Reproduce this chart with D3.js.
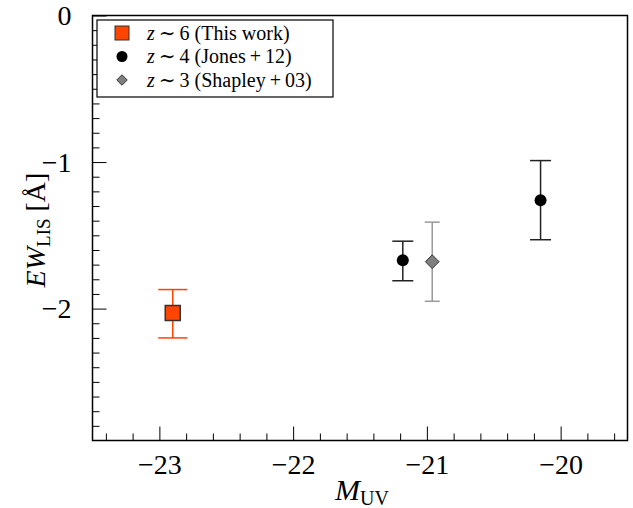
<!DOCTYPE html>
<html>
<head>
<meta charset="utf-8">
<script src="https://cdn.jsdelivr.net/npm/d3@7"></script>
<style>
  body { margin: 0; background: #fff; }
  svg { font-family: "Liberation Serif", "DejaVu Serif", serif; }
</style>
</head>
<body>
<div id="chart"></div>
<script>
// data: M_UV, EW, upper / lower error
const thisWork = [{ x: -22.9, y: -2.03, up: 0.16, lo: 0.17 }];
const jones12 = [
  { x: -21.18, y: -1.67, up: 0.13, lo: 0.14 },
  { x: -20.15, y: -1.26, up: 0.27, lo: 0.27 }
];
const shapley03 = [{ x: -20.96, y: -1.68, up: 0.27, lo: 0.27 }];
const xTicks = [-23, -22, -21, -20];
const yTicks = [0, -1, -2];

const width = 633, height = 508,
      margin = ({ top: 15.5, right: 5.5, bottom: 67.5, left: 92.5 });

const svg = d3.select("#chart")
  .append("svg")
  .attr("width", width)
  .attr("height", height);

const x = d3.scaleLinear()
  .domain([-23.5, -19.5])
  .range([margin.left, width - margin.right]);

const y = d3.scaleLinear()
  .domain([-2.9, 0])
  .range([height - margin.bottom, margin.top]);

// minor ticks (inward)
const xMinor = d3.range(-23.4, -19.5, 0.2).filter(v => Math.abs(v - Math.round(v)) > 0.01);
const yMinor = d3.range(-2.8, 0, 0.1).filter(v => Math.abs(v - Math.round(v)) > 0.01);

const gx = svg.append("g")
  .attr("transform", `translate(0,${height - margin.bottom})`);
gx.call(d3.axisBottom(x).tickValues(xMinor).tickSize(-7).tickFormat(""));
gx.append("g").call(d3.axisBottom(x).tickValues(xTicks).tickSize(-14).tickPadding(14)
    .tickFormat(d => "\u2212" + Math.abs(d)));
gx.selectAll(".domain").remove();
gx.selectAll("text").attr("font-size", 28).attr("fill", "#000")
  .attr("font-family", "Liberation Serif, serif");

const gy = svg.append("g")
  .attr("transform", `translate(${margin.left},0)`);
gy.call(d3.axisLeft(y).tickValues(yMinor).tickSize(-7).tickFormat(""));
gy.append("g").call(d3.axisLeft(y).tickValues(yTicks).tickSize(-14).tickPadding(21)
    .tickFormat(d => d === 0 ? "0" : "\u2212" + Math.abs(d)));
gy.selectAll(".domain").remove();
gy.selectAll("text").attr("font-size", 28).attr("fill", "#000")
  .attr("font-family", "Liberation Serif, serif");
svg.selectAll(".tick line").attr("stroke", "#000").attr("stroke-width", 1);

// frame
svg.append("rect")
  .attr("x", margin.left).attr("y", margin.top)
  .attr("width", width - margin.left - margin.right)
  .attr("height", height - margin.top - margin.bottom)
  .attr("fill", "none").attr("stroke", "#000").attr("stroke-width", 1.5);

// error bars
function errorBars(data, color, capW) {
  const g = svg.append("g");
  g.selectAll(".eb").data(data).join("line")
    .attr("x1", d => x(d.x)).attr("x2", d => x(d.x))
    .attr("y1", d => y(d.y + d.up)).attr("y2", d => y(d.y - d.lo))
    .attr("stroke", color).attr("stroke-width", 1.5);
  g.selectAll(".capt").data(data).join("line")
    .attr("x1", d => x(d.x) - capW / 2).attr("x2", d => x(d.x) + capW / 2)
    .attr("y1", d => y(d.y + d.up)).attr("y2", d => y(d.y + d.up))
    .attr("stroke", color).attr("stroke-width", 1.5);
  g.selectAll(".capb").data(data).join("line")
    .attr("x1", d => x(d.x) - capW / 2).attr("x2", d => x(d.x) + capW / 2)
    .attr("y1", d => y(d.y - d.lo)).attr("y2", d => y(d.y - d.lo))
    .attr("stroke", color).attr("stroke-width", 1.5);
}

errorBars(shapley03, "#999", 15);
errorBars(jones12, "#222", 21);
errorBars(thisWork, "#ff4500", 29);

svg.append("g").selectAll("path").data(shapley03).join("path")
  .attr("d", d3.symbol(d3.symbolDiamond2, 120)())
  .attr("transform", d => `translate(${x(d.x)},${y(d.y)})`)
  .attr("fill", "#7f7f7f").attr("stroke", "#333").attr("stroke-width", 1);

svg.append("g").selectAll("circle").data(jones12).join("circle")
  .attr("cx", d => x(d.x)).attr("cy", d => y(d.y)).attr("r", 6)
  .attr("fill", "#000");

svg.append("g").selectAll("rect").data(thisWork).join("rect")
  .attr("x", d => x(d.x) - 7.5).attr("y", d => y(d.y) - 7.5)
  .attr("width", 15).attr("height", 15)
  .attr("fill", "#ff4500").attr("stroke", "#333").attr("stroke-width", 1.5);

// legend
const legend = svg.append("g");
legend.append("rect")
  .attr("x", 97).attr("y", 20).attr("width", 236).attr("height", 77)
  .attr("fill", "#fff").attr("stroke", "#000").attr("stroke-width", 1.2);

const items = [
  { z: "6", txt: "(This work)", kind: "square" },
  { z: "4", txt: "(Jones\u2009+\u200912)", kind: "circle" },
  { z: "3", txt: "(Shapley\u2009+\u200903)", kind: "diamond" }
];
items.forEach((it, i) => {
  const cy = 33 + i * 23.5;
  if (it.kind === "square") {
    legend.append("rect").attr("x", 115).attr("y", cy - 7).attr("width", 14).attr("height", 14)
      .attr("fill", "#ff4500").attr("stroke", "#333").attr("stroke-width", 1);
  } else if (it.kind === "circle") {
    legend.append("circle").attr("cx", 122).attr("cy", cy).attr("r", 5.5).attr("fill", "#000");
  } else {
    legend.append("path").attr("d", d3.symbol(d3.symbolDiamond2, 70)())
      .attr("transform", `translate(122,${cy})`)
      .attr("fill", "#7f7f7f").attr("stroke", "#333").attr("stroke-width", 1);
  }
  const t = legend.append("text").attr("x", 147).attr("y", cy + 6.5)
    .attr("font-size", 20).attr("fill", "#000");
  t.append("tspan").attr("font-style", "italic").text("z");
  t.append("tspan").text("\u2009\u223c\u2009" + it.z + " " + it.txt);
});

// axis titles
const xl = svg.append("text").attr("x", 362).attr("y", 500)
  .attr("text-anchor", "middle").attr("font-size", 30).attr("fill", "#000");
xl.append("tspan").attr("font-style", "italic").text("M");
xl.append("tspan").attr("font-size", 20).attr("dy", 5).text("UV");

const yl = svg.append("text")
  .attr("transform", "translate(45,230) rotate(-90)")
  .attr("text-anchor", "middle").attr("font-size", 28).attr("fill", "#000");
yl.append("tspan").attr("font-style", "italic").text("EW");
yl.append("tspan").attr("font-size", 19).attr("dy", 5).text("LIS");
yl.append("tspan").attr("dy", -5).text(" [\u00c5]");
</script>
</body>
</html>
